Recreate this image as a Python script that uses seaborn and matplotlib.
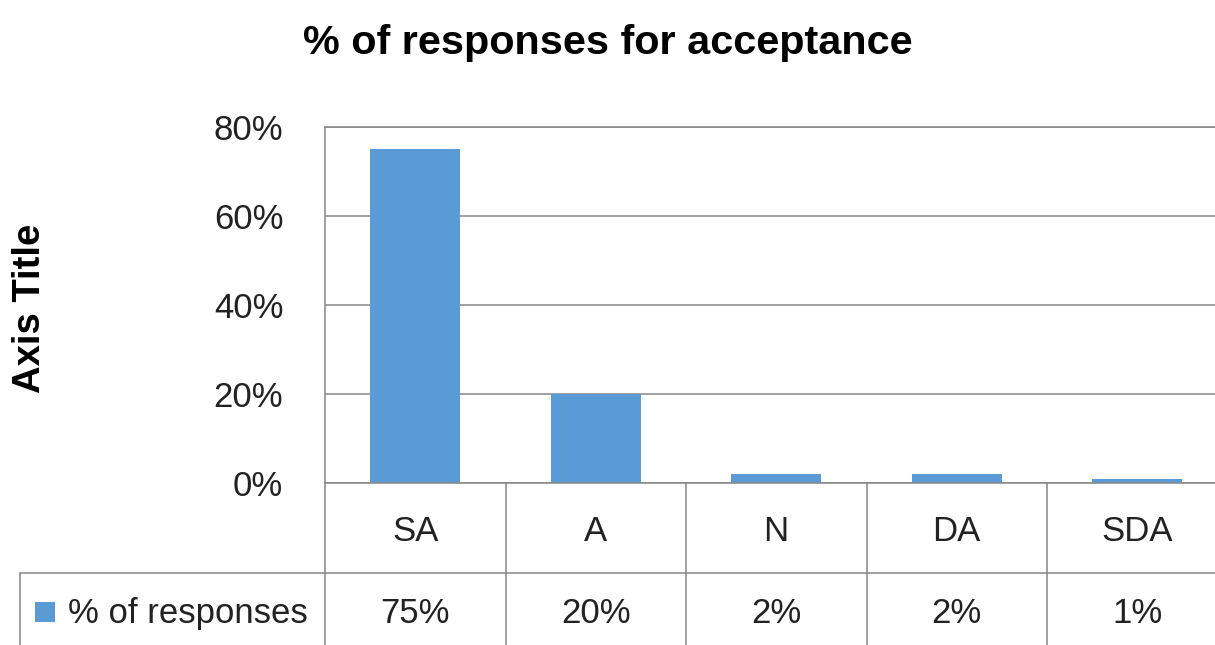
import matplotlib
matplotlib.use("Agg")
import matplotlib.pyplot as plt
import seaborn as sns
import pandas as pd
from matplotlib import font_manager
from matplotlib.lines import Line2D
from matplotlib.patches import Rectangle
from matplotlib.ticker import PercentFormatter
from matplotlib.transforms import blended_transform_factory

# --- data -------------------------------------------------------------
categories = ["SA", "A", "N", "DA", "SDA"]
responses = [0.75, 0.20, 0.02, 0.02, 0.01]
series_name = "% of responses"
title = "% of responses for acceptance"
y_label = "Axis Title"
y_ticks = [0.0, 0.2, 0.4, 0.6, 0.8]

# --- style ------------------------------------------------------------
W, H = 1215, 645
BAR = "#5B9BD5"
GRID = "#868686"
INK = "#222222"

sns.set_theme(style="white")
installed = {f.name for f in font_manager.fontManager.ttflist}
NARROW = "Liberation Sans Narrow" if "Liberation Sans Narrow" in installed else "Liberation Sans"
k = 1.0 if NARROW == "Liberation Sans Narrow" else 0.85
plt.rcParams["font.family"] = [NARROW, "DejaVu Sans"]
plt.rcParams["text.color"] = INK

fig = plt.figure(figsize=(W / 100, H / 100), dpi=100)


def fx(px):
    return px / W


def fy(py):
    return 1 - py / H


# plot area (the right-hand end of the chart runs past the canvas edge)
ax = fig.add_axes([fx(325), fy(483), 902.5 / W, (483 - 127) / H])
df = pd.DataFrame({"category": categories, "share": responses})
sns.barplot(data=df, x="category", y="share", color=BAR, width=0.5,
            saturation=1, linewidth=0, ax=ax)

ax.set_xlim(-0.5, 4.5)
ax.set_ylim(0, 0.8)
ax.set_yticks(y_ticks)
ax.yaxis.set_major_formatter(PercentFormatter(1.0, decimals=0))
ax.grid(axis="y", color=GRID, lw=1.1)
ax.set_axisbelow(True)
ax.tick_params(axis="y", length=0, pad=30, labelsize=29.5 * k, labelcolor=INK)
ax.tick_params(axis="x", length=0, labelbottom=False)
ax.set_xlabel("")
ax.set_ylabel("")
for side in ("left", "bottom", "top"):
    ax.spines[side].set_color(GRID)
    ax.spines[side].set_linewidth(1.1)
ax.spines["right"].set_visible(False)

# --- data table under the axis ----------------------------------------
trans = blended_transform_factory(ax.transData, fig.transFigure)
line_kw = dict(color=GRID, lw=1.1, clip_on=False)
for xb in [-0.5, 0.5, 1.5, 2.5, 3.5, 4.5]:
    ax.add_line(Line2D([xb, xb], [fy(483), 0], transform=trans, **line_kw))
ax.add_line(Line2D([fx(20), 1], [fy(573), fy(573)], transform=fig.transFigure, **line_kw))
ax.add_line(Line2D([fx(20), fx(20)], [fy(573), 0], transform=fig.transFigure, **line_kw))

for i, (cat, val) in enumerate(zip(categories, responses)):
    ax.text(i, fy(528), cat, transform=trans, ha="center", va="center_baseline",
            fontsize=29.5 * k, color=INK)
    ax.text(i, fy(610), f"{val:.0%}", transform=trans, ha="center",
            va="center_baseline", fontsize=29.5 * k, color=INK)

fig.add_artist(Rectangle((fx(35), fy(622)), fx(20), 20 / H,
                         transform=fig.transFigure, color=BAR, lw=0))
fig.text(fx(68), fy(610), series_name, ha="left", va="center_baseline",
         fontsize=29.5 * k, color=INK)

# --- titles -----------------------------------------------------------
fig.text(fx(608), fy(54), title, ha="center", va="baseline",
         fontsize=35 * k, fontweight="bold", color="black")
fig.text(fx(30), fy(308), y_label, rotation=90, ha="center", va="center",
         fontsize=27.5, fontweight="bold", family=["Liberation Sans", "DejaVu Sans"],
         color="black")

fig.savefig("out.png", dpi=100)
